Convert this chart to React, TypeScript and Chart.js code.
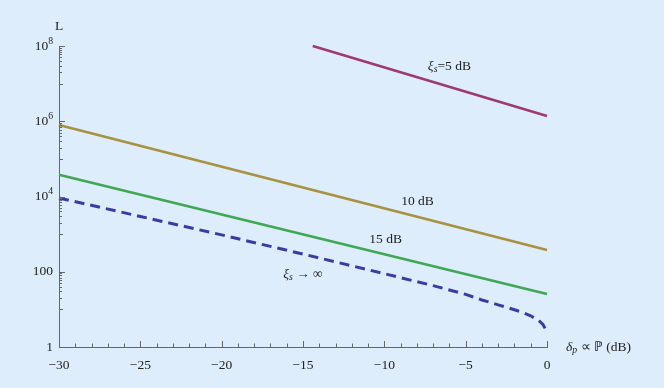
import React, { useEffect, useRef } from "react";
import { Chart, registerables } from "chart.js";

Chart.register(...registerables);

// ---- data ----
const x5dB = [-14.4, 0];
const y5dB = [1.0e8, 1.38e6];

const x10dB = [-30, 0];
const y10dB = [794000, 380];

const x15dB = [-30, 0];
const y15dB = [38000, 25.7];

const xInf = [-30, -25, -20, -15, -10, -7, -5, -4, -3, -2, -1.5, -1, -0.5, -0.25, -0.1, 0];
const yInf = [9120, 2950, 955, 295, 89, 42.7, 25.1, 17.8, 13.2, 9.77, 8.3, 6.76, 5.0, 3.98, 3.02, 2.95];

const xTickValues = [-30, -25, -20, -15, -10, -5, 0];
const yTickValues = [1, 1e2, 1e4, 1e6, 1e8];
const yTickBase = ["1", "100", "10", "10", "10"];
const yTickExp = ["", "", "4", "6", "8"];

type Seg = { t: string; it?: boolean; sub?: boolean; sup?: boolean };
const seriesLabels: { segs: Seg[]; x: number; y: number }[] = [
  { segs: [{ t: "\u03BE", it: true }, { t: "s", it: true, sub: true }, { t: "=5 dB" }], x: -6.0, y: Math.pow(10, 7.46) },
  { segs: [{ t: "10 dB" }], x: -7.96, y: Math.pow(10, 3.88) },
  { segs: [{ t: "15 dB" }], x: -9.92, y: Math.pow(10, 2.85) },
  { segs: [{ t: "\u03BE", it: true }, { t: "s", it: true, sub: true }, { t: " \u2192 \u221E" }], x: -15.0, y: Math.pow(10, 1.94) },
];

const FONT = "'Liberation Serif', 'Times New Roman', serif";
const FS = 13.5;
const TEXT = "#222";
const AXIS = "#666";

function drawRich(
  ctx: CanvasRenderingContext2D,
  segs: Seg[],
  x: number,
  y: number,
  align: "center" | "left" | "right"
) {
  const fontFor = (s: Seg) => `${s.it ? "italic " : ""}${s.sub || s.sup ? FS * 0.72 : FS}px ${FONT}`;
  let total = 0;
  const widths = segs.map((s) => {
    ctx.font = fontFor(s);
    const w = ctx.measureText(s.t).width;
    total += w;
    return w;
  });
  let cx = align === "center" ? x - total / 2 : align === "right" ? x - total : x;
  ctx.textBaseline = "middle";
  ctx.textAlign = "left";
  ctx.fillStyle = TEXT;
  segs.forEach((s, i) => {
    ctx.font = fontFor(s);
    ctx.fillText(s.t, cx, s.sub ? y + 3 : s.sup ? y - 5 : y);
    cx += widths[i];
  });
}

const decorPlugin = {
  id: "decor",
  afterDraw(chart: any) {
    const ctx: CanvasRenderingContext2D = chart.ctx;
    const xs = chart.scales.x;
    const ys = chart.scales.y;
    const area = chart.chartArea;
    ctx.save();
    ctx.strokeStyle = AXIS;
    ctx.lineWidth = 1;
    // x ticks (inward)
    for (let v = -30; v <= 0; v += 1) {
      const px = Math.round(xs.getPixelForValue(v)) + 0.5;
      const len = v % 5 === 0 ? 6 : 3.5;
      ctx.beginPath();
      ctx.moveTo(px, area.bottom);
      ctx.lineTo(px, area.bottom - len);
      ctx.stroke();
    }
    // y ticks (inward) + labels
    yTickValues.forEach((v, i) => {
      const py0 = ys.getPixelForValue(v);
      const py = Math.round(py0) + 0.5;
      ctx.beginPath();
      ctx.moveTo(area.left, py);
      ctx.lineTo(area.left + 6, py);
      ctx.stroke();
      const segs: Seg[] = [{ t: yTickBase[i] }];
      if (yTickExp[i]) segs.push({ t: yTickExp[i], sup: true });
      drawRich(ctx, segs, area.left - 6, py0, "right");
    });
    [1, 3, 5, 7].forEach((m) => {
      for (let k = 1; k <= 9; k++) {
        const py = Math.round(ys.getPixelForValue(k * Math.pow(10, m))) + 0.5;
        ctx.beginPath();
        ctx.moveTo(area.left, py);
        ctx.lineTo(area.left + (k === 1 ? 4 : 3), py);
        ctx.stroke();
      }
    });
    // axis titles
    drawRich(ctx, [{ t: "L" }], area.left, area.top - 20, "center");
    drawRich(
      ctx,
      [{ t: "\u03B4", it: true }, { t: "p", it: true, sub: true }, { t: " \u221D \u2119 (dB)" }],
      area.right + 19,
      area.bottom,
      "left"
    );
    // series labels
    seriesLabels.forEach((l) => {
      drawRich(ctx, l.segs, xs.getPixelForValue(l.x), ys.getPixelForValue(l.y), "center");
    });
    ctx.restore();
  },
};

const toPts = (xs: number[], ys: number[]) => xs.map((x, i) => ({ x, y: ys[i] }));

export default function App() {
  const ref = useRef<HTMLCanvasElement>(null);
  useEffect(() => {
    if (!ref.current) return;
    const chart = new Chart(ref.current, {
      type: "line",
      data: {
        datasets: [
          { data: toPts(x5dB, y5dB), borderColor: "#9e3a6f", borderWidth: 2.6 },
          { data: toPts(x10dB, y10dB), borderColor: "#a8913f", borderWidth: 2.6 },
          { data: toPts(x15dB, y15dB), borderColor: "#3ea852", borderWidth: 2.6 },
          { data: toPts(xInf, yInf), borderColor: "#3b3ba6", borderWidth: 3, borderDash: [10, 6] },
        ] as any,
      },
      options: {
        animation: false,
        responsive: false,
        layout: { padding: { left: 0, right: 117, top: 46, bottom: 0 } },
        elements: { point: { radius: 0 }, line: { tension: 0, borderCapStyle: "butt" } },
        datasets: { line: { clip: false } } as any,
        plugins: { legend: { display: false }, tooltip: { enabled: false } },
        scales: {
          x: {
            type: "linear",
            min: -30,
            max: 0,
            grid: { display: false },
            border: { display: true, color: AXIS, width: 1 },
            afterBuildTicks: (s: any) => {
              s.ticks = xTickValues.map((v) => ({ value: v }));
            },
            afterFit: (s: any) => {
              s.height = 41;
            },
            ticks: {
              padding: 2,
              maxRotation: 0,
              autoSkip: false,
              color: TEXT,
              font: { family: FONT, size: FS },
              callback: (v: any) => (Number(v) < 0 ? "\u2212" + Math.abs(Number(v)) : String(v)),
            },
          },
          y: {
            type: "logarithmic",
            min: 1,
            max: 1e8,
            grid: { display: false },
            border: { display: true, color: AXIS, width: 1 },
            afterBuildTicks: (s: any) => {
              s.ticks = yTickValues.map((v) => ({ value: v }));
            },
            afterFit: (s: any) => {
              s.width = 59;
            },
            ticks: { display: false },
          },
        },
      },
      plugins: [decorPlugin],
    });
    return () => chart.destroy();
  }, []);
  return (
    <div style={{ position: "fixed", left: 0, top: 0, width: 664, height: 388, background: "#ddedfc" }}>
      <canvas ref={ref} width={664} height={388} style={{ display: "block" }} />
    </div>
  );
}
